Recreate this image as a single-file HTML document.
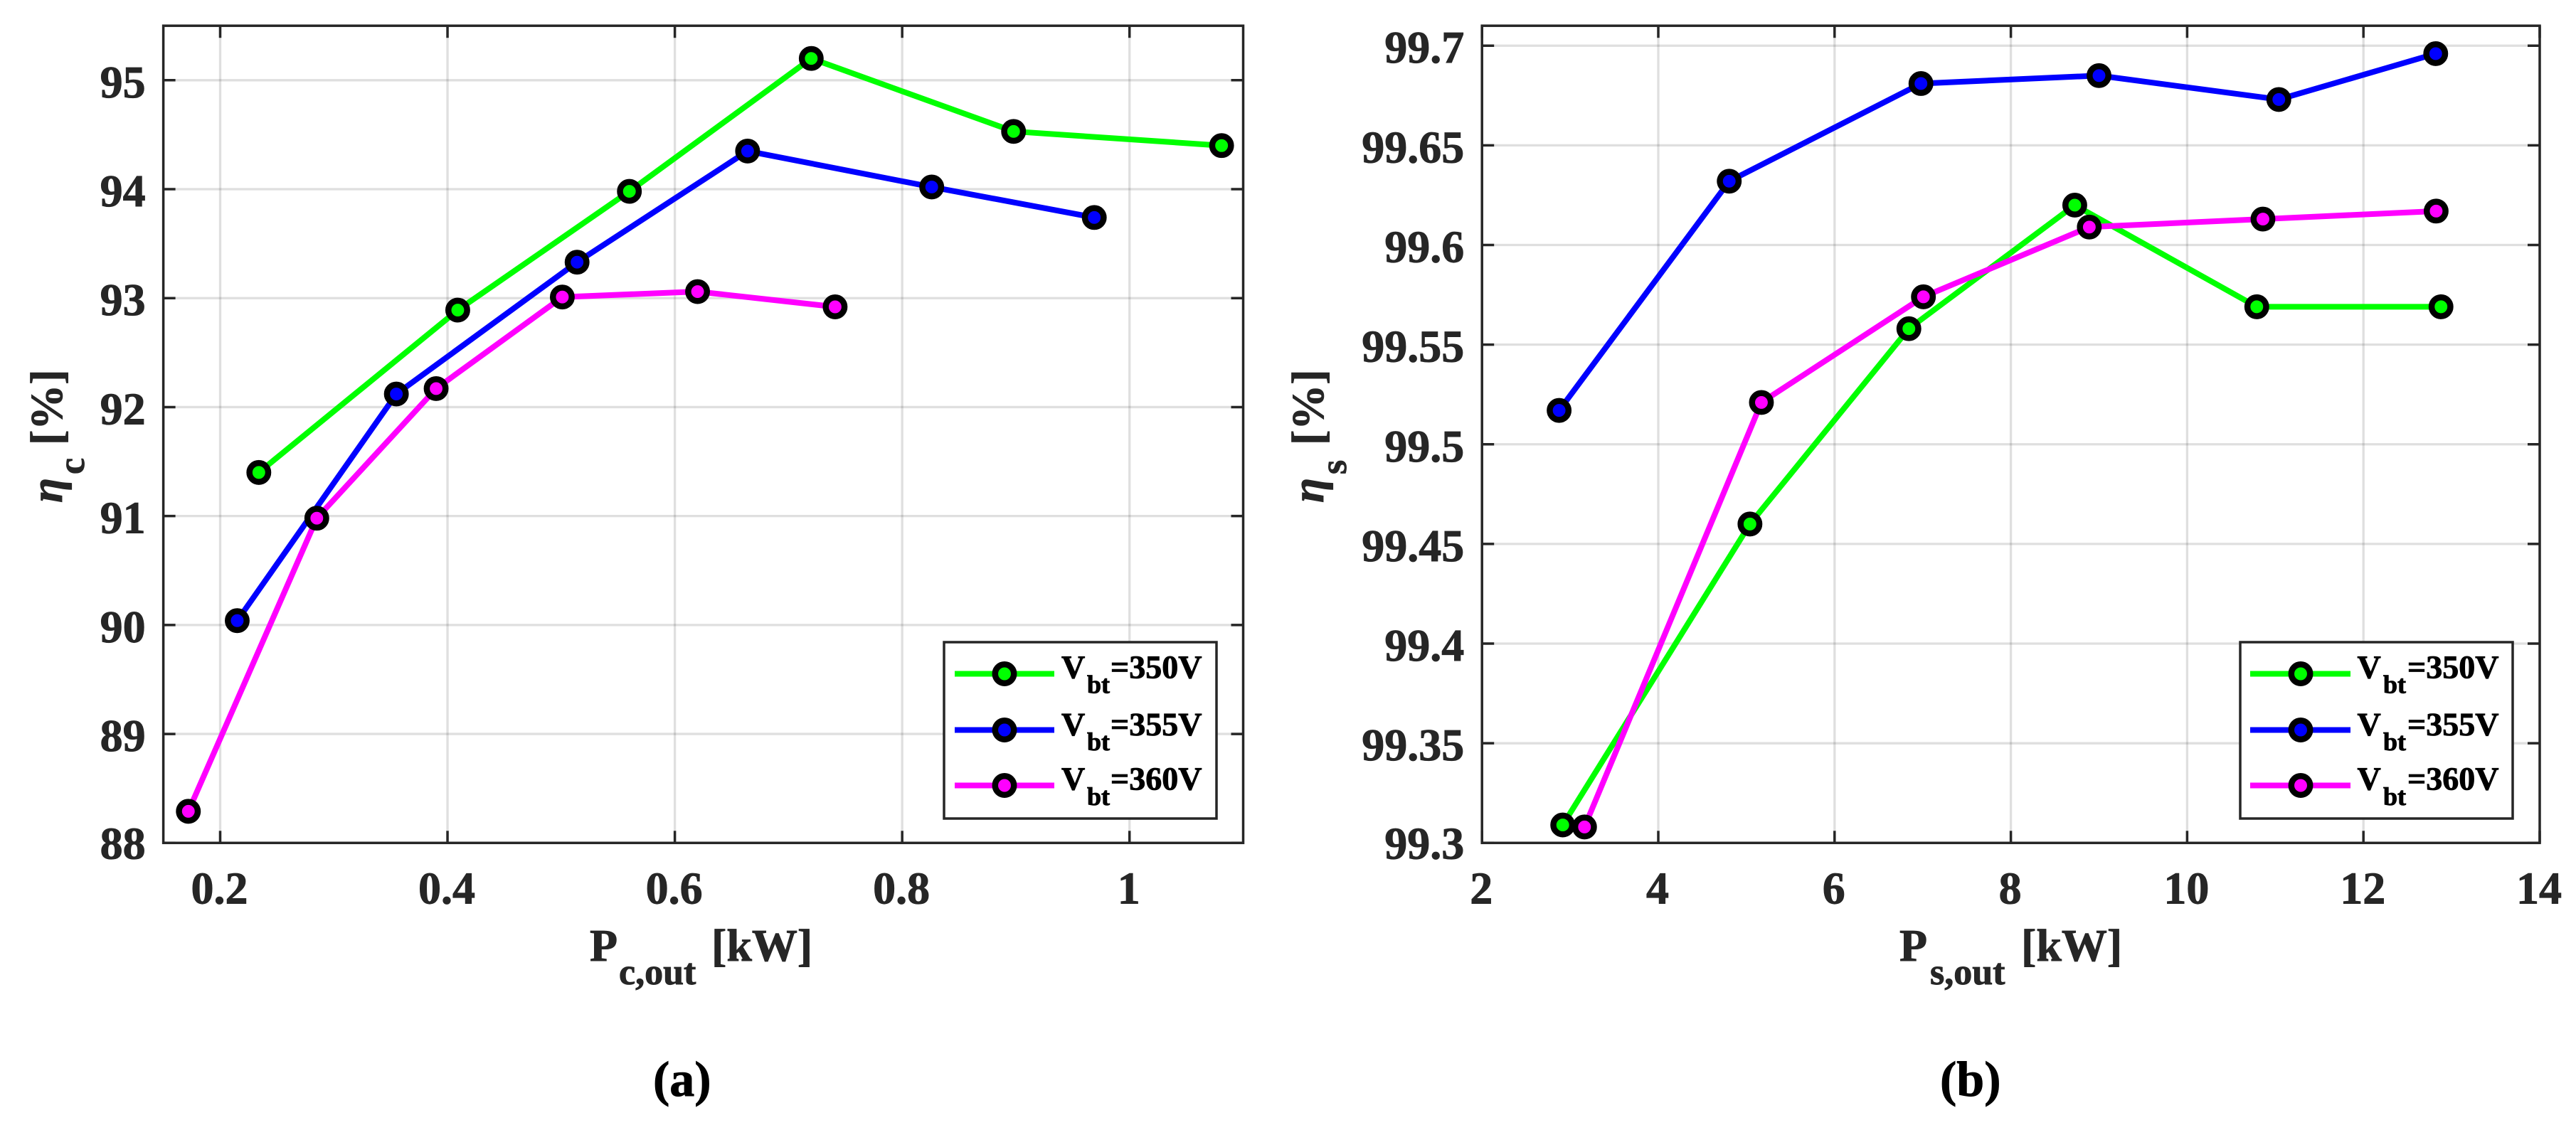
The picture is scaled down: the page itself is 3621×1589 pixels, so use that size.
<!DOCTYPE html>
<html lang="en">
<head>
<meta charset="utf-8">
<title>Efficiency versus output power</title>
<style>
  html, body { margin: 0; padding: 0; background: #fff; }
  svg { display: block; }
  text { font-family: "Liberation Serif", serif; font-weight: bold; text-rendering: geometricPrecision; stroke-width: 0.9px; }
  .title { fill: #262626; stroke: #262626; font-size: 64px; }
  .sub { font-size: 52px; }
  .leg { fill: #000; stroke: #000; font-size: 46px; }
  .leg .s { font-size: 36px; }
  .cap { fill: #000; stroke: #000; font-size: 70px; }
  .eta { font-style: italic; }
</style>
</head>
<body>
<svg id="figure" xmlns="http://www.w3.org/2000/svg" width="3621" height="1589" viewBox="0 0 3621 1589">
  <rect width="3621" height="1589" fill="#fff"/>
  <g id="plot-a"></g>
  <g id="plot-b"></g>

  <!-- Axis titles and captions -->
  <text class="title" x="829" y="1351">P<tspan class="sub" x="870" y="1384">c,out</tspan><tspan x="1000" y="1351">[kW]</tspan></text>
  <text class="title" x="2670" y="1351">P<tspan class="sub" x="2713" y="1384">s,out</tspan><tspan x="2841" y="1351">[kW]</tspan></text>
  <g transform="translate(87,0) rotate(-90)">
    <text class="title"><tspan class="eta" x="-707" y="0">η</tspan><tspan class="sub" x="-667" y="31">c</tspan><tspan x="-626" y="0">[%]</tspan></text>
  </g>
  <g transform="translate(1860,0) rotate(-90)">
    <text class="title"><tspan class="eta" x="-707" y="0">η</tspan><tspan class="sub" x="-667" y="32">s</tspan><tspan x="-626" y="0">[%]</tspan></text>
  </g>
  <text class="cap" x="918" y="1541">(a)</text>
  <text class="cap" x="2727" y="1541">(b)</text>

  <!-- Legend (a) -->
  <g>
    <rect x="1327" y="903" width="383" height="248" fill="#fff" stroke="#262626" stroke-width="3.5"/>
    <g>
      <line x1="1342" x2="1482" y1="947.5" y2="947.5" stroke="#00ff00" stroke-width="8"/>
      <circle cx="1412" cy="947.5" r="13.2" fill="#00ff00" stroke="#000" stroke-width="8.5"/>
      <text class="leg"><tspan x="1492" y="953.5">V</tspan><tspan class="s" x="1528" y="974.6">bt</tspan><tspan x="1561" y="953.5">=350V</tspan></text>
    </g>
    <g>
      <line x1="1342" x2="1482" y1="1026.5" y2="1026.5" stroke="#0000ff" stroke-width="8"/>
      <circle cx="1412" cy="1026.5" r="13.2" fill="#0000ff" stroke="#000" stroke-width="8.5"/>
      <text class="leg"><tspan x="1492" y="1034">V</tspan><tspan class="s" x="1528" y="1055">bt</tspan><tspan x="1561" y="1034">=355V</tspan></text>
    </g>
    <g>
      <line x1="1342" x2="1482" y1="1104.5" y2="1104.5" stroke="#ff00ff" stroke-width="8"/>
      <circle cx="1412" cy="1104.5" r="13.2" fill="#ff00ff" stroke="#000" stroke-width="8.5"/>
      <text class="leg"><tspan x="1492" y="1110.5">V</tspan><tspan class="s" x="1528" y="1132">bt</tspan><tspan x="1561" y="1110.5">=360V</tspan></text>
    </g>
  </g>

  <!-- Legend (b) -->
  <g>
    <rect x="3149" y="903" width="383" height="248" fill="#fff" stroke="#262626" stroke-width="3.5"/>
    <g>
      <line x1="3163" x2="3304" y1="947.5" y2="947.5" stroke="#00ff00" stroke-width="8"/>
      <circle cx="3234" cy="947.5" r="13.2" fill="#00ff00" stroke="#000" stroke-width="8.5"/>
      <text class="leg"><tspan x="3313.5" y="953.5">V</tspan><tspan class="s" x="3350" y="974.6">bt</tspan><tspan x="3384" y="953.5">=350V</tspan></text>
    </g>
    <g>
      <line x1="3163" x2="3304" y1="1026.5" y2="1026.5" stroke="#0000ff" stroke-width="8"/>
      <circle cx="3234" cy="1026.5" r="13.2" fill="#0000ff" stroke="#000" stroke-width="8.5"/>
      <text class="leg"><tspan x="3313.5" y="1034">V</tspan><tspan class="s" x="3350" y="1055">bt</tspan><tspan x="3384" y="1034">=355V</tspan></text>
    </g>
    <g>
      <line x1="3163" x2="3304" y1="1104.5" y2="1104.5" stroke="#ff00ff" stroke-width="8"/>
      <circle cx="3234" cy="1104.5" r="13.2" fill="#ff00ff" stroke="#000" stroke-width="8.5"/>
      <text class="leg"><tspan x="3313.5" y="1110.5">V</tspan><tspan class="s" x="3350" y="1132">bt</tspan><tspan x="3384" y="1110.5">=360V</tspan></text>
    </g>
  </g>
</svg>

<script>
// Chart (a) data
const xTicksA = [0.2, 0.4, 0.6, 0.8, 1];
const xTickLabelsA = ['0.2', '0.4', '0.6', '0.8', '1'];
const yTicksA = [88, 89, 90, 91, 92, 93, 94, 95];
const yTickLabelsA = ['88', '89', '90', '91', '92', '93', '94', '95'];
const powerA350 = [0.234, 0.409, 0.560, 0.720, 0.898, 1.081];
const etaA350 = [91.40, 92.89, 93.98, 95.20, 94.53, 94.40];
const powerA355 = [0.215, 0.355, 0.514, 0.664, 0.826, 0.969];
const etaA355 = [90.04, 92.12, 93.33, 94.35, 94.02, 93.74];
const powerA360 = [0.172, 0.285, 0.390, 0.501, 0.620, 0.741];
const etaA360 = [88.29, 90.98, 92.17, 93.01, 93.06, 92.92];

// Chart (b) data
const xTicksB = [2, 4, 6, 8, 10, 12, 14];
const xTickLabelsB = ['2', '4', '6', '8', '10', '12', '14'];
const yTicksB = [99.3, 99.35, 99.4, 99.45, 99.5, 99.55, 99.6, 99.65, 99.7];
const yTickLabelsB = ['99.3', '99.35', '99.4', '99.45', '99.5', '99.55', '99.6', '99.65', '99.7'];
const powerB350 = [2.916, 5.04, 6.843, 8.725, 10.79, 12.88];
const etaB350 = [99.309, 99.46, 99.558, 99.62, 99.569, 99.569];
const powerB355 = [2.875, 4.805, 6.98, 9.0, 11.04, 12.82];
const etaB355 = [99.517, 99.632, 99.681, 99.685, 99.673, 99.696];
const powerB360 = [3.163, 5.17, 7.008, 8.89, 10.86, 12.825];
const etaB360 = [99.308, 99.521, 99.574, 99.609, 99.613, 99.617];

const SVG_NS = 'http://www.w3.org/2000/svg';
const AXIS_COLOR = '#262626';

function make(tag, attrs, parent) {
  const node = document.createElementNS(SVG_NS, tag);
  for (const k in attrs) node.setAttribute(k, attrs[k]);
  parent.appendChild(node);
  return node;
}

function drawChart(cfg) {
  const root = document.getElementById(cfg.id);
  const sx = v => cfg.left + (v - cfg.xMin) / (cfg.xMax - cfg.xMin) * (cfg.right - cfg.left);
  const sy = v => cfg.bottom - (v - cfg.yMin) / (cfg.yMax - cfg.yMin) * (cfg.bottom - cfg.top);

  const grid = make('g', { stroke: AXIS_COLOR, 'stroke-opacity': 0.15, 'stroke-width': 3.3 }, root);
  
  
  cfg.xTicks.forEach(t => {
    const l = make('line', { x1: sx(t), x2: sx(t), y1: cfg.top, y2: cfg.bottom }, grid);
    
    
  });
  cfg.yTicks.forEach(t => {
    const l = make('line', { x1: cfg.left, x2: cfg.right, y1: sy(t), y2: sy(t) }, grid);
    
    
  });

  const axes = make('g', { stroke: AXIS_COLOR, 'stroke-width': 3.5, fill: 'none' }, root);
  
  
  const frame = make('rect', { x: cfg.left, y: cfg.top, width: cfg.right - cfg.left, height: cfg.bottom - cfg.top }, axes);
  
  
  const tickLen = 17;
  cfg.xTicks.forEach(t => {
    const a = make('line', { x1: sx(t), x2: sx(t), y1: cfg.bottom, y2: cfg.bottom - tickLen }, axes);
    
    
    const b = make('line', { x1: sx(t), x2: sx(t), y1: cfg.top, y2: cfg.top + tickLen }, axes);
    
    
  });
  cfg.yTicks.forEach(t => {
    const a = make('line', { x1: cfg.left, x2: cfg.left + tickLen, y1: sy(t), y2: sy(t) }, axes);
    
    
    const b = make('line', { x1: cfg.right, x2: cfg.right - tickLen, y1: sy(t), y2: sy(t) }, axes);
    
    
  });

  cfg.xTicks.forEach((t, i) => {
    const tx = make('text', { x: sx(t) - 1, y: cfg.bottom + 85, 'text-anchor': 'middle', 'font-size': 64, fill: AXIS_COLOR, stroke: AXIS_COLOR }, root);
    tx.textContent = cfg.xTickLabels[i];
    
    
  });
  cfg.yTicks.forEach((t, i) => {
    const tx = make('text', { x: cfg.left - 25, y: sy(t) + (i === 0 ? 22 : 24), 'text-anchor': 'end', 'font-size': 64, fill: AXIS_COLOR, stroke: AXIS_COLOR }, root);
    tx.textContent = cfg.yTickLabels[i];
    
    
  });

  cfg.series.forEach(s => {
    const g = make('g', {}, root);
    
    
    const pts = s.x.map((v, i) => sx(v) + ',' + sy(s.y[i])).join(' ');
    const line = make('polyline', { points: pts, fill: 'none', stroke: s.color, 'stroke-width': 8, 'stroke-linejoin': 'round' }, g);
    
    
    s.x.forEach((v, i) => {
      const c = make('circle', { cx: sx(v), cy: sy(s.y[i]), r: 13.2, fill: s.color, stroke: '#000', 'stroke-width': 8.5 }, g);
      
      
    });
  });
}

drawChart({
  id: 'plot-a', left: 229.6, right: 1747.5, top: 36.2, bottom: 1185.3,
  xMin: 0.15, xMax: 1.1, yMin: 88, yMax: 95.5,
  xTicks: xTicksA, xTickLabels: xTickLabelsA, yTicks: yTicksA, yTickLabels: yTickLabelsA,
  series: [
    { name: 'vbt-350v', color: '#00ff00', x: powerA350, y: etaA350 },
    { name: 'vbt-355v', color: '#0000ff', x: powerA355, y: etaA355 },
    { name: 'vbt-360v', color: '#ff00ff', x: powerA360, y: etaA360 }
  ]
});

drawChart({
  id: 'plot-b', left: 2083.2, right: 3570, top: 36.2, bottom: 1185.3,
  xMin: 2, xMax: 14, yMin: 99.3, yMax: 99.71,
  xTicks: xTicksB, xTickLabels: xTickLabelsB, yTicks: yTicksB, yTickLabels: yTickLabelsB,
  series: [
    { name: 'vbt-350v', color: '#00ff00', x: powerB350, y: etaB350 },
    { name: 'vbt-355v', color: '#0000ff', x: powerB355, y: etaB355 },
    { name: 'vbt-360v', color: '#ff00ff', x: powerB360, y: etaB360 }
  ]
});
</script>
</body>
</html>
